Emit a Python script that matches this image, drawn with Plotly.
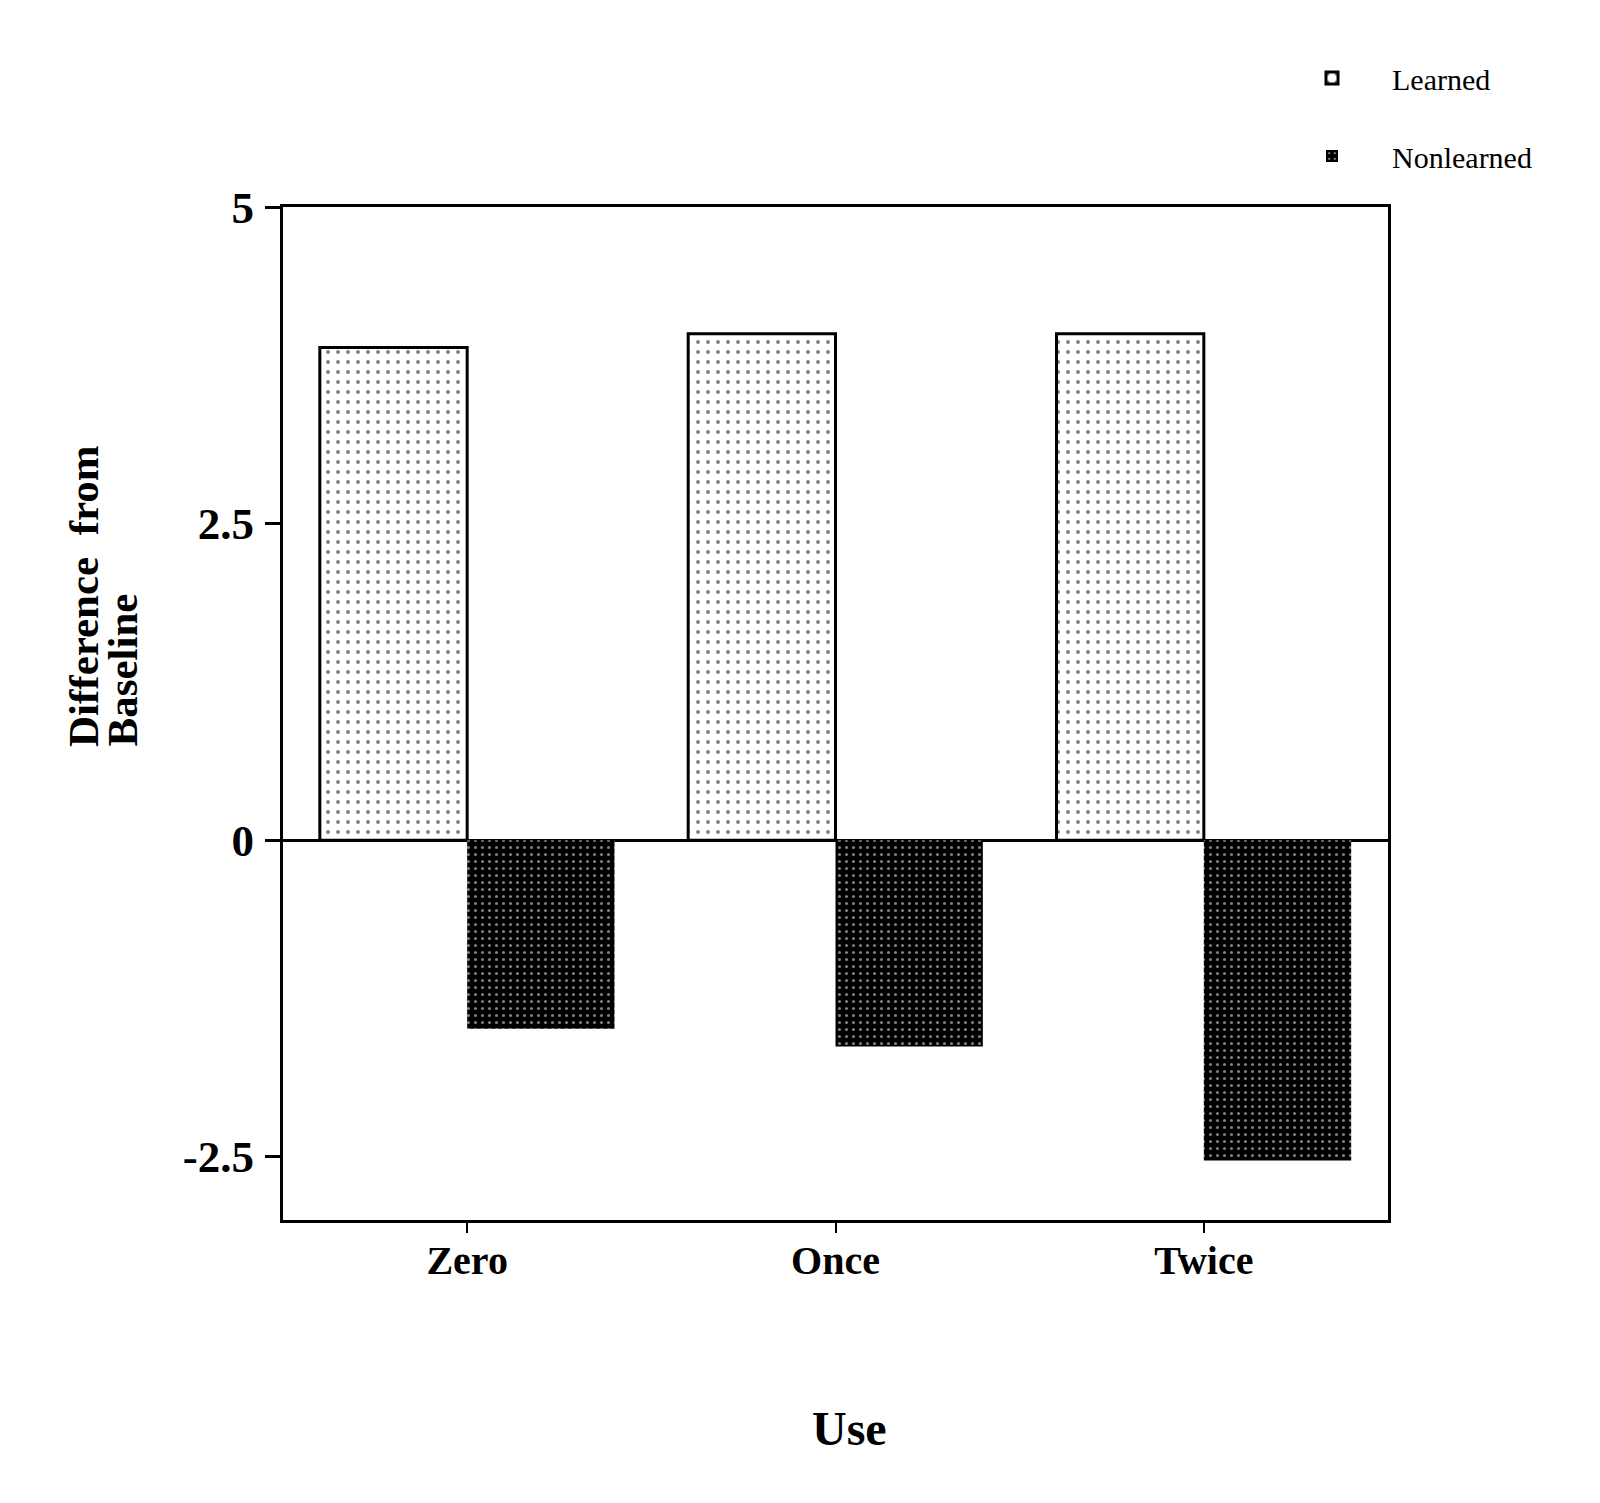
import plotly.graph_objects as go

categories = ["Zero", "Once", "Twice"]
learned = [3.89, 4.0, 4.0]
nonlearned = [-1.49, -1.63, -2.53]
y_tickvals = [-2.5, 0, 2.5, 5]
y_ticktext = ["-2.5", "0", "2.5", "5"]

SERIF = "Liberation Serif"

L, R, T, B = 275, 220, 199, 291
W, H = 1600, 1503
PW = W - L - R
PH = H - T - B


def px_x(x):
    return (x - L) / PW


def px_y(y):
    return (H - B - y) / PH


fig = go.Figure()
fig.add_trace(go.Bar(
    name="Learned", x=categories, y=learned, legendgroup="a",
    marker=dict(color="white", line=dict(color="black", width=3),
                pattern=dict(shape=".", bgcolor="white", fgcolor="black",
                             size=10, solidity=0.12)),
))
fig.add_trace(go.Bar(
    name="Nonlearned", x=categories, y=nonlearned, legendgroup="b",
    marker=dict(color="black", line=dict(color="black", width=0),
                pattern=dict(shape=".", bgcolor="black", fgcolor="white",
                             size=7, solidity=0.15)),
))

fig.update_layout(
    width=W, height=H,
    margin=dict(l=L, r=R, t=T, b=B),
    paper_bgcolor="white", plot_bgcolor="white",
    barmode="group", bargap=0.2, bargroupgap=0,
    font=dict(family=SERIF, color="black"),
    showlegend=True,
    legend=dict(x=px_x(1264), y=px_y(44), xanchor="left", yanchor="top",
                font=dict(family=SERIF, size=30, color="black"),
                traceorder="grouped", tracegroupgap=36, itemwidth=110,
                bgcolor="rgba(0,0,0,0)"),
    xaxis=dict(range=[-0.5, 2.5], showline=True, linecolor="black", linewidth=3,
               mirror=True, ticks="outside", ticklen=10, tickwidth=2, tickcolor="black",
               ticklabelstandoff=-7,
               tickfont=dict(family=SERIF, size=40, weight="bold", color="black"),
               showgrid=False, zeroline=False),
    yaxis=dict(range=[-3, 5], tickvals=y_tickvals, ticktext=y_ticktext,
               showline=True, linecolor="black", linewidth=3, mirror=True,
               ticks="outside", ticklen=15, tickwidth=3, tickcolor="black",
               ticklabelstandoff=2,
               tickfont=dict(family=SERIF, size=45, weight="bold", color="black"),
               showgrid=False, zeroline=True, zerolinecolor="black", zerolinewidth=3),
    annotations=[
        dict(text="Difference  from", textangle=-90,
             xref="paper", yref="paper", x=px_x(75), y=px_y(741),
             xanchor="center", yanchor="bottom", showarrow=False,
             font=dict(family=SERIF, size=43, weight="bold", color="black")),
        dict(text="Baseline", textangle=-90,
             xref="paper", yref="paper", x=px_x(114), y=px_y(741),
             xanchor="center", yanchor="bottom", showarrow=False,
             font=dict(family=SERIF, size=43, weight="bold", color="black")),
        dict(text="Use", xref="paper", yref="paper",
             x=px_x(841), y=px_y(1420),
             xanchor="center", yanchor="middle", showarrow=False,
             font=dict(family=SERIF, size=48, weight="bold", color="black")),
    ],
)

fig.write_html("out.html")
